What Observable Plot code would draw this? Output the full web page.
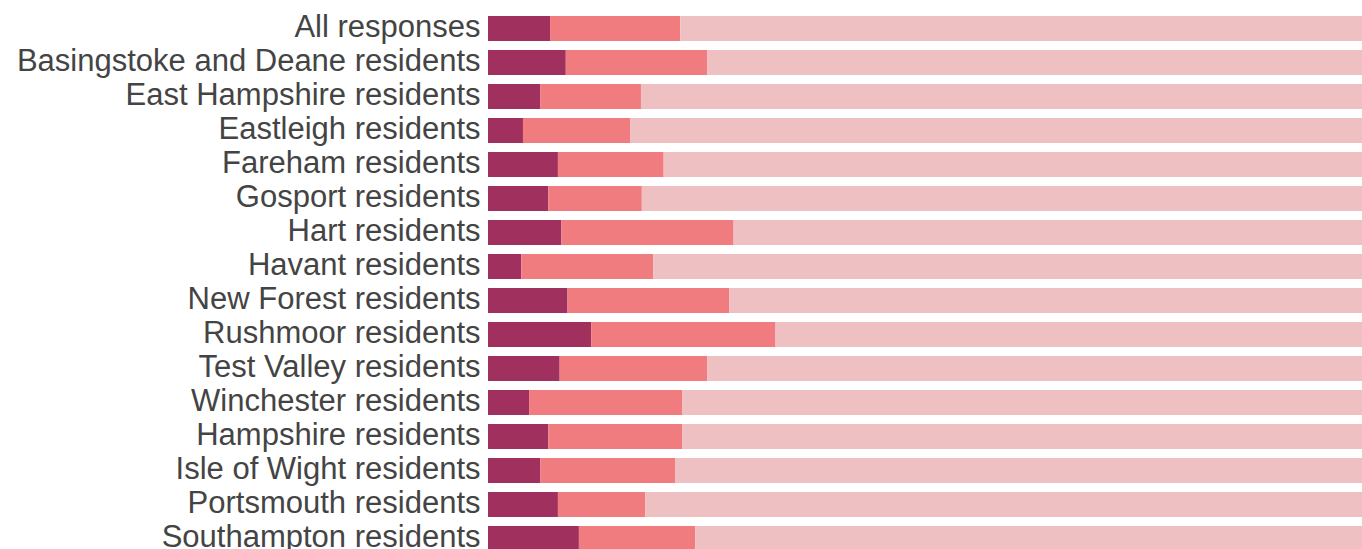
<!DOCTYPE html>
<html>
<head>
<meta charset="utf-8">
<script src="https://cdn.jsdelivr.net/npm/d3@7"></script>
<script src="https://cdn.jsdelivr.net/npm/@observablehq/plot@0.6"></script>
<style>
  html, body { margin: 0; padding: 0; background: #fff; overflow: hidden; }
  #chart svg { display: block; }
</style>
</head>
<body>
<div id="chart"></div>
<script>
const categories = [
  "All responses",
  "Basingstoke and Deane residents",
  "East Hampshire residents",
  "Eastleigh residents",
  "Fareham residents",
  "Gosport residents",
  "Hart residents",
  "Havant residents",
  "New Forest residents",
  "Rushmoor residents",
  "Test Valley residents",
  "Winchester residents",
  "Hampshire residents",
  "Isle of Wight residents",
  "Portsmouth residents",
  "Southampton residents"
];
const seriesNames = ["Series 1", "Series 2", "Series 3"];
const series1 = [7.1, 8.9, 6.0, 4.0, 8.0, 6.9, 8.4, 3.8, 9.1, 11.8, 8.2, 4.7, 6.9, 6.0, 8.0, 10.4];
const series2 = [14.9, 16.2, 11.5, 12.3, 12.1, 10.7, 19.7, 15.1, 18.5, 21.1, 16.9, 17.5, 15.3, 15.4, 10.0, 13.3];
const series3 = [78.0, 74.9, 82.5, 83.7, 79.9, 82.4, 71.9, 81.1, 72.4, 67.1, 74.9, 77.8, 77.8, 78.6, 82.0, 76.3];
const seriesColors = ["#a0305e", "#f07c80", "#eec0c1"];

const allSeries = [series1, series2, series3];
const data = [];
categories.forEach((c, i) => {
  allSeries.forEach((s, k) => {
    data.push({category: c, series: seriesNames[k], order: k, value: s[i]});
  });
});

const chart = Plot.plot({
  width: 1362,
  height: 549,
  marginLeft: 488,
  marginRight: 0,
  marginTop: 0,
  marginBottom: 0,
  style: {fontFamily: "'Liberation Sans', Arial, sans-serif", background: "#fff"},
  x: {domain: [0, 100], axis: null},
  y: {domain: categories, range: [15, 552], paddingInner: 0.27, paddingOuter: 0, label: null},
  color: {domain: seriesNames, range: seriesColors},
  marks: [
    Plot.barX(data, Plot.stackX({
      x: "value",
      y: "category",
      fill: "series",
      order: "order",
      inset: 0
    })),
    Plot.axisY({
      tickSize: 0,
      tickPadding: 8,
      fontSize: 31,
      dy: -2,
      fill: "#444444",
      label: null
    })
  ]
});
document.getElementById("chart").appendChild(chart);
</script>
</body>
</html>
